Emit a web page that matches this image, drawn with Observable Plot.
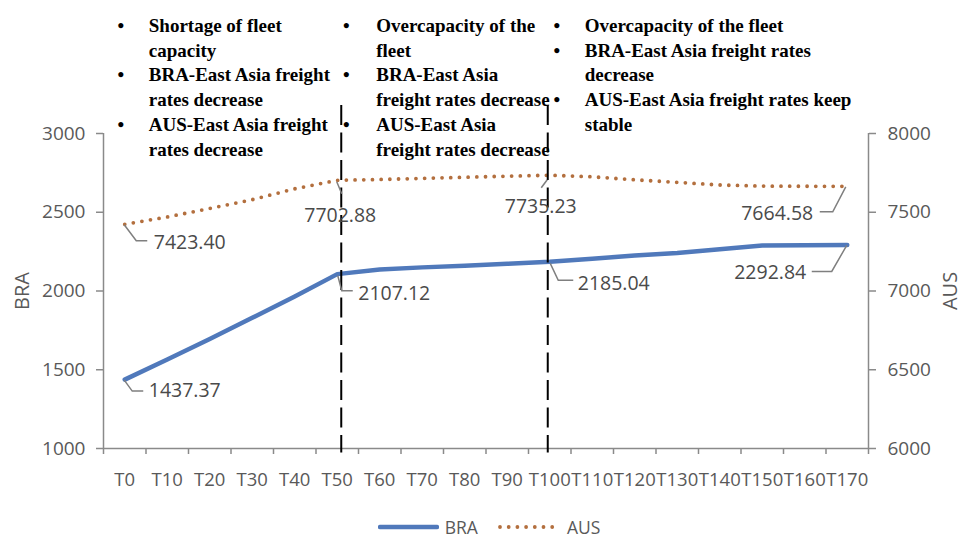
<!DOCTYPE html>
<html>
<head>
<meta charset="utf-8">
<script src="https://cdn.jsdelivr.net/npm/d3@7"></script>
<script src="https://cdn.jsdelivr.net/npm/@observablehq/plot@0.6"></script>
<style>
  body { margin: 0; background: #fff; }
  #chart { width: 962px; height: 539px; }
  #chart > svg { display: block; }
  #legend {
    display: flex; justify-content: center; align-items: center;
    height: 18px; line-height: 18px; margin-top: 18px; padding-left: 16px;
    font: 17.5px "Open Sans", sans-serif; color: #595959;
  }
  #legend svg { display: block; }
</style>
</head>
<body>
<div id="chart"></div>
<script>
// Periods T0 … T170 and the two freight series
const categories = ["T0","T10","T20","T30","T40","T50","T60","T70","T80","T90",
                    "T100","T110","T120","T130","T140","T150","T160","T170"];
const bra = [1437.37, 1565, 1695, 1830, 1965, 2107.12, 2137, 2150, 2160, 2173,
             2185.04, 2205, 2225, 2242, 2265, 2289, 2291, 2292.84];
const aus = [7423.40, 7470, 7524, 7580, 7649, 7702.88, 7708, 7715, 7722, 7729,
             7735.23, 7725, 7706, 7690, 7673, 7666, 7665, 7664.58];

// Axis ticks: BRA on the left, AUS on the right
const braTicks = [1000, 1500, 2000, 2500, 3000];
const ausTicks = [6000, 6500, 7000, 7500, 8000];

// Phase dividers
const dividers = ["T50", "T100"];

// Phase notes, one column per phase (bullet marks where an item starts)
const noteColumns = [
  {at: "T0",   lines: ["Shortage of fleet", "capacity", "BRA-East Asia freight", "rates decrease",
                       "AUS-East Asia freight", "rates decrease"],
               bullets: [1, 0, 1, 0, 1, 0]},
  {at: "T50",  lines: ["Overcapacity of the", "fleet", "BRA-East Asia", "freight rates decrease",
                       "AUS-East Asia", "freight rates decrease"],
               bullets: [1, 0, 1, 0, 1, 0]},
  {at: "T100", lines: ["Overcapacity of the fleet", "BRA-East Asia freight rates", "decrease",
                       "AUS-East Asia freight rates keep", "stable"],
               bullets: [1, 1, 0, 1, 0]}
];

// Points that carry a value label
const labelled = [
  {series: "BRA", at: "T0"}, {series: "BRA", at: "T50"}, {series: "BRA", at: "T100"}, {series: "BRA", at: "T170"},
  {series: "AUS", at: "T0"}, {series: "AUS", at: "T50"}, {series: "AUS", at: "T100"}, {series: "AUS", at: "T170"}
];

// ---- styling / layout ----
const BRA_COLOR = "#5079bb";
const AUS_COLOR = "#b36f3e";
const AXIS_COLOR = "#8a8a8a";
const TEXT_COLOR = "#595959";
const LABEL_COLOR = "#4a4a4a";
const DOTS = "0 8.7";
const DOT_WIDTH = 3.8;
const FONT = "'Open Sans', sans-serif";

// The AUS axis (6000–8000) is drawn against the BRA scale (1000–3000)
const AUS_SHIFT = ausTicks[0] - braTicks[0];

// Leader-line and label offsets in pixels from each labelled point
const labelStyle = {
  "BRA T0":   {leader: [[0, 1], [8, 12], [19, 12]],   text: [24, 11], anchor: "start"},
  "BRA T50":  {leader: [[1, 2], [5, 17], [16, 17]],   text: [21, 20], anchor: "start"},
  "BRA T100": {leader: [[1, 2], [9, 19], [24, 19]],   text: [28, 22], anchor: "start"},
  "BRA T170": {leader: [[0, 1], [-15, 27], [-35, 27]], text: [-41, 28], anchor: "end"},
  "AUS T0":   {leader: [[0, 1], [12, 17], [23, 17]],  text: [29, 18], anchor: "start"},
  "AUS T50":  {leader: [[0, 2], [5, 14]],             text: [3, 35], anchor: "middle"},
  "AUS T100": {leader: [[-2, 5], [-8, 13]],           text: [-9, 32], anchor: "middle"},
  "AUS T170": {leader: [[-1, 1], [-14, 26], [-27, 26]], text: [-34, 27], anchor: "end"}
};
const dividerOffset = {"T50": 4, "T100": -2};
const noteOffset = {"T0": [-4, 24], "T50": [9, 39], "T100": [7, 35]};

const idx = d3.range(categories.length);
const pos = c => categories.indexOf(c);
const braRows = idx.map(i => ({i, y: bra[i]}));
const ausRows = idx.map(i => ({i, y: aus[i] - AUS_SHIFT}));
const valueOf = (s, i) => s === "BRA" ? bra[i] : aus[i];
const yOf = (s, i) => s === "BRA" ? bra[i] : aus[i] - AUS_SHIFT;

const labelMarks = labelled.map(d => {
  const i = pos(d.at);
  const st = labelStyle[`${d.series} ${d.at}`];
  return Plot.text([{i, y: yOf(d.series, i), label: valueOf(d.series, i).toFixed(2)}], {
    x: "i", y: "y", text: "label",
    dx: st.text[0], dy: st.text[1], textAnchor: st.anchor,
    fontSize: 19.5, fill: LABEL_COLOR
  });
});

// dashed phase dividers, reaching up into the notes area
const dividerMarks = dividers.map(c => Plot.ruleX([pos(c)], {
  y1: braTicks[braTicks.length - 1], y2: braTicks[0],
  insetTop: -28, insetBottom: -4.5, dx: dividerOffset[c],
  stroke: "black", strokeWidth: 2, strokeDasharray: "20 7.5"
}));

const noteMarks = noteColumns.flatMap(col => {
  const [bdx, tdx] = noteOffset[col.at];
  const common = {x: pos(col.at), frameAnchor: "top", lineAnchor: "top", lineHeight: 1.3,
                  dy: -119, fontFamily: "'Liberation Serif', 'Times New Roman', serif",
                  fontWeight: "bold", fontSize: 19, fill: "black"};
  return [
    Plot.text([col.bullets.map(b => b ? "•" : "").join("\n")], {...common, text: d => d, dx: bdx, textAnchor: "middle"}),
    Plot.text([col.lines.join("\n")], {...common, text: d => d, dx: tdx, textAnchor: "start"})
  ];
});

const chart = Plot.plot({
  width: 962,
  height: 500,
  marginLeft: 103,
  marginRight: 94,
  marginTop: 133,
  marginBottom: 52,
  style: {fontFamily: FONT, background: "white", overflow: "visible"},
  x: {type: "linear", domain: [-0.5, categories.length - 0.5]},
  y: {domain: [braTicks[0], braTicks[braTicks.length - 1]]},
  marks: [
    // axis lines
    Plot.ruleY([braTicks[0]], {stroke: AXIS_COLOR, strokeWidth: 1.5}),
    Plot.ruleX([-0.5, categories.length - 0.5], {stroke: AXIS_COLOR, strokeWidth: 1.5}),
    // left axis (BRA)
    Plot.axisY({ticks: braTicks, tickFormat: d => String(d), tickSize: 7, tickPadding: 11, label: null,
                stroke: AXIS_COLOR, strokeWidth: 1.5, fill: TEXT_COLOR, fontSize: 19}),
    // right axis (AUS)
    Plot.axisY({anchor: "right", ticks: braTicks, tickFormat: d => String(d + AUS_SHIFT),
                tickSize: 7, tickPadding: 12, label: null,
                stroke: AXIS_COLOR, strokeWidth: 1.5, fill: TEXT_COLOR, fontSize: 19}),
    // category ticks between periods, labels centred on periods
    Plot.axisX(d3.range(-0.5, categories.length, 1), {tickSize: 6, tickFormat: () => "", label: null,
                stroke: AXIS_COLOR, strokeWidth: 1.5}),
    Plot.axisX(idx, {tickSize: 0, tickPadding: 24.5, tickFormat: i => categories[i], label: null,
                fill: TEXT_COLOR, fontSize: 18.5}),
    // axis titles
    Plot.text(["BRA"], {frameAnchor: "left", textAnchor: "middle", rotate: -90, dx: -81,
                        fontSize: 20, fill: TEXT_COLOR}),
    Plot.text(["AUS"], {frameAnchor: "right", textAnchor: "middle", rotate: -90, dx: 82,
                        fontSize: 20, fill: TEXT_COLOR}),
    // series
    Plot.line(braRows, {x: "i", y: "y", stroke: BRA_COLOR, strokeWidth: 4.5,
                        strokeLinejoin: "round", strokeLinecap: "round"}),
    Plot.line(ausRows, {x: "i", y: "y", stroke: AUS_COLOR, strokeWidth: DOT_WIDTH,
                        strokeDasharray: DOTS, strokeLinecap: "round"}),
    ...dividerMarks,
    ...labelMarks,
    ...noteMarks
  ]
});

// leader lines from each labelled point to its label, placed through the chart's scales
const xs = chart.scale("x"), ys = chart.scale("y");
const sx = v => xs.apply ? xs.apply(v) : d3.scaleLinear(xs.domain, xs.range)(v);
const sy = v => ys.apply ? ys.apply(v) : d3.scaleLinear(ys.domain, ys.range)(v);
const leaders = d3.select(chart).append("g")
  .attr("fill", "none").attr("stroke", "#7f7f7f").attr("stroke-width", 1.5);
for (const d of labelled) {
  const i = pos(d.at);
  const px = sx(i), py = sy(yOf(d.series, i));
  const st = labelStyle[`${d.series} ${d.at}`];
  leaders.append("path").attr("d", d3.line()(st.leader.map(([ox, oy]) => [px + ox, py + oy])));
}

const host = document.getElementById("chart");
host.append(chart);

// legend below the chart
const legend = document.createElement("div");
legend.id = "legend";
legend.innerHTML = `
  <svg width="61" height="10"><line x1="2" x2="59" y1="5" y2="5" stroke="${BRA_COLOR}" stroke-width="4.5" stroke-linecap="round"/></svg>
  <span style="margin-left:6px">BRA</span>
  <svg width="61" height="10" style="margin-left:20px"><line x1="2" x2="59" y1="5" y2="5" stroke="${AUS_COLOR}" stroke-width="${DOT_WIDTH}" stroke-dasharray="${DOTS}" stroke-linecap="round"/></svg>
  <span style="margin-left:8px">AUS</span>`;
host.append(legend);
</script>
</body>
</html>
